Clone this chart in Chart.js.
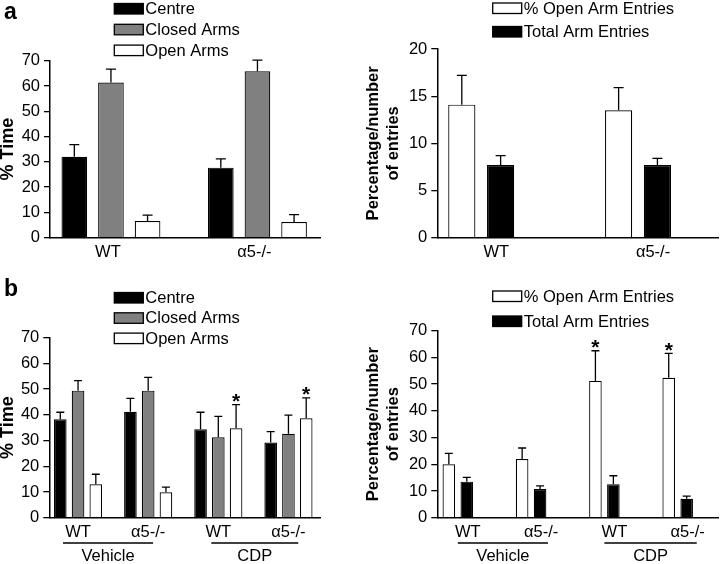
<!DOCTYPE html>
<html>
<head>
<meta charset="utf-8">
<script src="https://cdn.jsdelivr.net/npm/chart.js@4.4.1/dist/chart.umd.min.js"></script>
<style>
  body { margin: 0; background: #fff; }
  #fig { position: relative; width: 720px; height: 564px; overflow: hidden; font-family: "Liberation Sans", Arial, sans-serif; }
  canvas { position: absolute; }
  .panel { position: absolute; font-weight: bold; font-size: 23px; line-height: 23px; }
</style>
</head>
<body>
<div id="fig">
  <canvas id="aLeft" width="360" height="270" style="left:0;top:0"></canvas>
  <canvas id="aRight" width="360" height="270" style="left:360px;top:0"></canvas>
  <canvas id="bLeft" width="360" height="284" style="left:0;top:280px"></canvas>
  <canvas id="bRight" width="360" height="284" style="left:360px;top:280px"></canvas>
  <div class="panel" style="left:4px;top:0px">a</div>
  <div class="panel" style="left:4px;top:277px">b</div>
</div>
<script>
// ---- data ----
const groupsA = ["WT", "α5-/-"];
const timeTicks = [0, 10, 20, 30, 40, 50, 60, 70];
const entryTicksA = [0, 5, 10, 15, 20];

// panel a, % time
const aCentre = [32.0, 27.7];
const aCentreSem = [4.8, 3.5];
const aClosed = [61.4, 65.8];
const aClosedSem = [5.3, 4.4];
const aOpen = [6.6, 6.2];
const aOpenSem = [2.3, 2.9];

// panel a, entries
const aOpenEntries = [14.1, 13.5];
const aOpenEntriesSem = [3.1, 2.4];
const aTotalEntries = [7.7, 7.7];
const aTotalEntriesSem = [1.0, 0.7];

// panel b
const groupsB = ["WT", "α5-/-", "WT", "α5-/-"];
const treatments = ["Vehicle", "CDP"];

const bCentre = [38.3, 41.2, 34.4, 29.2];
const bCentreSem = [2.7, 5.2, 6.6, 4.3];
const bClosed = [49.4, 49.4, 31.3, 32.6];
const bClosedSem = [3.9, 5.2, 8.1, 7.3];
const bOpen = [13.0, 9.9, 34.8, 38.7];
const bOpenSem = [3.9, 2.0, 9.2, 7.9];
const bOpenSig = [false, false, true, true];

const bOpenEntries = [20.0, 22.0, 51.2, 52.4];
const bOpenEntriesSem = [4.1, 4.1, 11.3, 9.1];
const bOpenEntriesSig = [false, false, true, true];
const bTotalEntries = [13.5, 10.7, 12.5, 7.1];
const bTotalEntriesSem = [1.6, 1.2, 3.2, 1.0];

const FONT = "'Liberation Sans', Arial, sans-serif";
const FS = 16.5;
Chart.defaults.font.family = FONT;
Chart.defaults.font.size = FS;
Chart.defaults.color = "#000";

// upward-only error bars + significance stars
const errorBars = {
  id: "errorBars",
  afterDatasetsDraw(chart, args, opts) {
    const ctx = chart.ctx;
    const y = chart.scales.y;
    ctx.save();
    ctx.strokeStyle = "#000";
    ctx.lineWidth = 1.3;
    chart.data.datasets.forEach((ds, d) => {
      chart.getDatasetMeta(d).data.forEach((bar, i) => {
        const top = y.getPixelForValue(ds.data[i].y + ds.sem[i]);
        ctx.beginPath();
        ctx.moveTo(bar.x, bar.y);
        ctx.lineTo(bar.x, top);
        ctx.moveTo(bar.x - opts.cap / 2, top);
        ctx.lineTo(bar.x + opts.cap / 2, top);
        ctx.stroke();
        if (ds.sig && ds.sig[i]) {
          ctx.fillStyle = "#000";
          ctx.font = "bold 21px " + FONT;
          ctx.textAlign = "center";
          ctx.textBaseline = "alphabetic";
          ctx.fillText("*", bar.x, top + 3.5);
        }
      });
    });
    ctx.restore();
  },
};

// stacked legend with outlined boxes
const boxLegend = {
  id: "boxLegend",
  afterDraw(chart, args, opts) {
    const ctx = chart.ctx;
    ctx.save();
    ctx.font = FS + "px " + FONT;
    ctx.textBaseline = "middle";
    ctx.textAlign = "left";
    chart.data.datasets.forEach((ds, i) => {
      const cy = opts.y + i * opts.gap;
      ctx.fillStyle = ds.backgroundColor;
      ctx.fillRect(opts.x, cy - 5, 29, 10.5);
      ctx.strokeStyle = "#000";
      ctx.lineWidth = 1.3;
      ctx.strokeRect(opts.x, cy - 5, 29, 10.5);
      ctx.fillStyle = "#000";
      ctx.fillText(ds.label, opts.x + 31, cy + 1);
    });
    ctx.restore();
  },
};

// treatment underline + name below the genotype labels
const treatmentLines = {
  id: "treatmentLines",
  afterDraw(chart, args, opts) {
    if (!opts.spans) return;
    const ctx = chart.ctx;
    const x = chart.scales.x;
    ctx.save();
    ctx.strokeStyle = "#000";
    ctx.lineWidth = 1.3;
    ctx.fillStyle = "#000";
    ctx.font = FS + "px " + FONT;
    ctx.textAlign = "center";
    ctx.textBaseline = "middle";
    opts.spans.forEach((s, i) => {
      const x0 = x.getPixelForValue(s[0]);
      const x1 = x.getPixelForValue(s[1]);
      ctx.beginPath();
      ctx.moveTo(x0, opts.lineY);
      ctx.lineTo(x1, opts.lineY);
      ctx.stroke();
      ctx.fillText(treatments[i], (x0 + x1) / 2, opts.textY);
    });
    ctx.restore();
  },
};

function series(label, groups, values, sem, color, cat, bar, sig) {
  return {
    label: label,
    data: groups.map((g, i) => ({ x: i, y: values[i] })),
    sem: sem,
    sig: sig,
    backgroundColor: color,
    borderColor: "#000",
    borderWidth: 1.2,
    categoryPercentage: cat,
    barPercentage: bar,
  };
}

function barChart(id, o) {
  return new Chart(document.getElementById(id), {
    type: "bar",
    data: { datasets: o.datasets },
    options: {
      responsive: false,
      animation: false,
      devicePixelRatio: 1,
      layout: { padding: o.padding },
      plugins: {
        legend: { display: false },
        tooltip: { enabled: false },
        errorBars: { cap: o.cap },
        boxLegend: o.legend,
        treatmentLines: o.treat || {},
      },
      scales: {
        x: {
          type: "linear",
          min: o.xMin,
          max: o.xMax,
          offset: false,
          grid: { display: false, drawTicks: false },
          border: { color: "#000", width: 1.5 },
          ticks: {
            autoSkip: false,
            maxRotation: 0,
            padding: 5,
            labelOffset: o.labelOffset,
            font: { size: FS },
            callback: (v) => o.groups[v],
          },
          afterBuildTicks: (s) => {
            s.ticks = o.groups.map((g, i) => ({ value: i }));
          },
          afterFit: (s) => {
            s.height = o.xHeight;
          },
        },
        y: {
          min: o.yTicks[0],
          max: o.yTicks[o.yTicks.length - 1],
          grid: { display: true, drawOnChartArea: false, drawTicks: true, tickLength: 6, color: "#000", lineWidth: 1.3 },
          border: { color: "#000", width: 1.5 },
          ticks: { padding: 4, font: { size: FS } },
          afterBuildTicks: (s) => {
            s.ticks = o.yTicks.map((v) => ({ value: v }));
          },
          title: {
            display: true,
            text: o.yTitle,
            font: { size: o.titleSize, weight: "bold", lineHeight: 1.2 },
            padding: o.titlePad,
          },
          afterFit: (s) => {
            s.width = o.yWidth;
          },
        },
      },
    },
    plugins: [errorBars, boxLegend, treatmentLines],
  });
}

// a, % time
barChart("aLeft", {
  datasets: [
    series("Centre", groupsA, aCentre, aCentreSem, "#000000", 0.75, 0.7),
    series("Closed Arms", groupsA, aClosed, aClosedSem, "#808080", 0.75, 0.7),
    series("Open Arms", groupsA, aOpen, aOpenSem, "#ffffff", 0.75, 0.7),
  ],
  groups: groupsA,
  yTicks: timeTicks,
  yTitle: "% Time",
  titleSize: 18,
  titlePad: { top: -3, bottom: 0 },
  padding: { left: 0, right: 40, top: 60.7, bottom: 0 },
  yWidth: 50,
  xHeight: 32.3,
  xMin: -0.416,
  xMax: 1.427,
  labelOffset: -3,
  cap: 10,
  legend: { x: 114.3, y: 8.5, gap: 20.8 },
});

// a, entries
barChart("aRight", {
  datasets: [
    series("% Open Arm Entries", groupsA, aOpenEntries, aOpenEntriesSem, "#ffffff", 0.495, 0.7),
    series("Total Arm Entries", groupsA, aTotalEntries, aTotalEntriesSem, "#000000", 0.495, 0.7),
  ],
  groups: groupsA,
  yTicks: entryTicksA,
  yTitle: ["Percentage/number", "of entries"],
  titleSize: 16.5,
  titlePad: { top: 0, bottom: 0 },
  padding: { left: 4, right: 2, top: 49, bottom: 0 },
  yWidth: 73.3,
  xHeight: 32.3,
  xMin: -0.28,
  xMax: 1.51,
  labelOffset: 15,
  cap: 10,
  legend: { x: 132.7, y: 8, gap: 23.5 },
});

// b, % time
barChart("bLeft", {
  datasets: [
    series("Centre", groupsB, bCentre, bCentreSem, "#000000", 0.76, 0.71),
    series("Closed Arms", groupsB, bClosed, bClosedSem, "#808080", 0.76, 0.71),
    series("Open Arms", groupsB, bOpen, bOpenSem, "#ffffff", 0.76, 0.71, bOpenSig),
  ],
  groups: groupsB,
  yTicks: timeTicks,
  yTitle: "% Time",
  titleSize: 18,
  titlePad: { top: -3, bottom: 0 },
  padding: { left: 0, right: 40, top: 57.7, bottom: 0 },
  yWidth: 49.3,
  xHeight: 46.3,
  xMin: -0.41,
  xMax: 3.45,
  labelOffset: 0,
  cap: 8,
  legend: { x: 114.3, y: 17.5, gap: 20.3 },
  treat: { spans: [[-0.214, 1.07], [1.9, 3.14]], lineY: 263, textY: 276 },
});

// b, entries
barChart("bRight", {
  datasets: [
    series("% Open Arm Entries", groupsB, bOpenEntries, bOpenEntriesSem, "#ffffff", 0.49, 0.7, bOpenEntriesSig),
    series("Total Arm Entries", groupsB, bTotalEntries, bTotalEntriesSem, "#000000", 0.49, 0.7),
  ],
  groups: groupsB,
  yTicks: timeTicks,
  yTitle: ["Percentage/number", "of entries"],
  titleSize: 16.5,
  titlePad: { top: 0, bottom: 0 },
  padding: { left: 4, right: 2, top: 50.7, bottom: 0 },
  yWidth: 73.3,
  xHeight: 46.3,
  xMin: -0.28,
  xMax: 3.55,
  labelOffset: 10,
  cap: 8,
  legend: { x: 132.7, y: 16, gap: 25 },
  treat: { spans: [[0, 1.23], [2.0, 3.26]], lineY: 263, textY: 276 },
});
</script>
</body>
</html>
